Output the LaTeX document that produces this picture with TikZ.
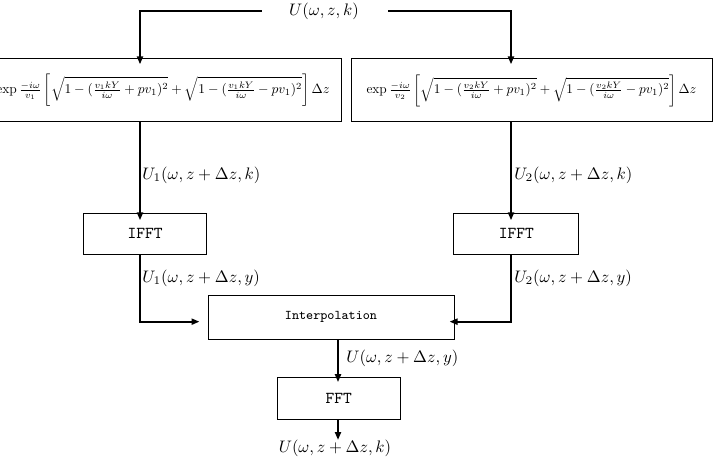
\documentclass[tikz,border=0pt]{standalone}
\usetikzlibrary{arrows.meta,calc}
\begin{document}
\begin{tikzpicture}[x=0.6pt,y=-0.6pt,
  box/.style={draw,line width=0.6pt,inner sep=0pt,minimum width=#1},
  conn/.style={line width=1.2pt,-{Triangle[length=4.8pt,width=3.6pt]}},
  lab/.style={inner sep=0pt,anchor=west},
  ttl/.style={font=\ttfamily}]
\useasboundingbox (0,0) rectangle (714,460);
\begin{scope}
\clip (0,0) rectangle (714,460);
% columns
\coordinate (colL) at (140,0);
\coordinate (colR) at (511,0);
\coordinate (colM) at (338,0);
% nodes
\node[inner sep=3.33pt] (top) at (324,11) {$U(\omega,z,k)$};
\node[box=213.6pt,minimum height=37.8pt] (box1) at (163,90.5)
  {\resizebox{200pt}{!}{$\exp\frac{-i\omega}{v_1}\left[\sqrt{1-(\frac{v_1kY}{i\omega}+pv_1)^2}+\sqrt{1-(\frac{v_1kY}{i\omega}-pv_1)^2}\right]\Delta z$}};
\node[box=216.6pt,minimum height=37.8pt] (box2) at (531.5,90.5)
  {\resizebox{198pt}{!}{$\exp\frac{-i\omega}{v_2}\left[\sqrt{1-(\frac{v_2kY}{i\omega}+pv_1)^2}+\sqrt{1-(\frac{v_2kY}{i\omega}-pv_1)^2}\right]\Delta z$}};
\node[box=74pt,minimum height=24.6pt,ttl] (ifft1) at (145,233.8) {IFFT};
\node[box=74.8pt,minimum height=24.6pt,ttl] (ifft2) at (516.3,233.8) {IFFT};
\node[box=147.6pt,minimum height=26.4pt,font=\ttfamily\footnotesize] (interp) at (331,317) {Interpolation};
\node[box=73.6pt,minimum height=25.4pt,ttl] (fft) at (338.7,398.8) {FFT};
\coordinate (out) at (338,440);
\node[inner sep=0pt] (outlab) at (335,448) {$U(\omega,z+\Delta z,k)$};
% labels
\node[lab] (l1) at (142,175) {$U_1(\omega,z+\Delta z,k)$};
\node[lab] (r1) at (514,175) {$U_2(\omega,z+\Delta z,k)$};
\node[lab] (l2) at (142,278) {$U_1(\omega,z+\Delta z,y)$};
\node[lab] (r2) at (514,278) {$U_2(\omega,z+\Delta z,y)$};
\node[lab] (m1) at (346,358) {$U(\omega,z+\Delta z,y)$};
% connectors
\draw[conn,shorten <=12.8pt,shorten >=-3.5pt] (top.west) -| (box1.north -| colL);
\draw[conn,shorten <=14pt,shorten >=-3.5pt] (top.east) -| (box2.north -| colR);
\draw[conn,shorten >=-4.5pt] (box1.south -| colL) -- (ifft1.north -| colL);
\draw[conn,shorten >=-4.5pt] (box2.south -| colR) -- (ifft2.north -| colR);
\draw[conn,shorten >=4.8pt] (ifft1.south -| colL) |- ([yshift=-2.8pt]interp.west);
\draw[conn,shorten >=-3pt] (ifft2.south -| colR) |- ([yshift=-2.8pt]interp.east);
\draw[conn,shorten >=-3pt] (interp.south -| colM) -- (fft.north -| colM);
\draw[conn] (fft.south -| colM) -- (out);
\end{scope}
\end{tikzpicture}
\end{document}
